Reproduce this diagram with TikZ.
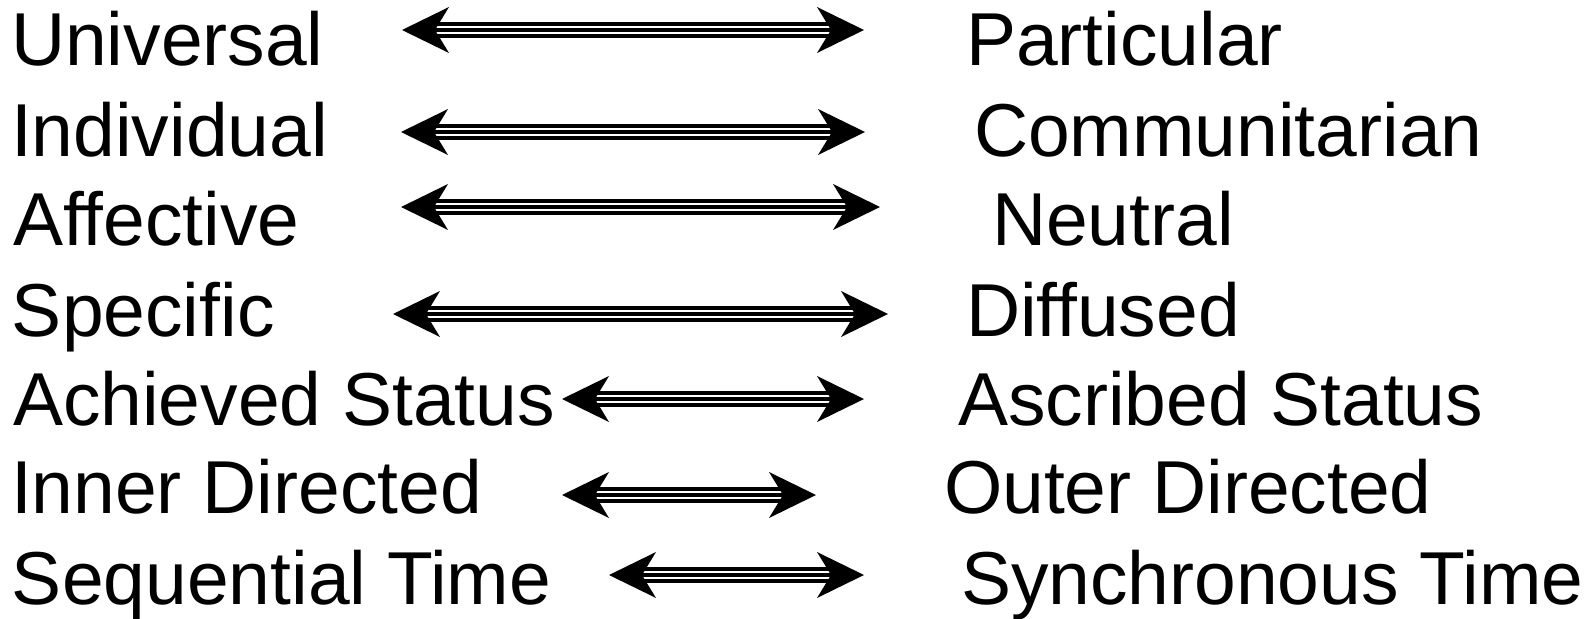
\documentclass[tikz,border=0pt]{standalone}
\usepackage{fontspec}
\setmainfont{Liberation Sans}
\usetikzlibrary{arrows.meta}
\tikzset{
  lbl/.style={anchor=base west, inner sep=0pt, outer sep=0pt, font=\fontsize{75}{80}\selectfont},
  bighead/.tip={Stealth[length=47pt, width=46pt, inset=14pt, line width=0pt]},
  tri/.style={line width=3.8pt, {bighead}-{bighead},
    preaction={draw, -, black, line width=15.5pt, shorten <=34pt, shorten >=34pt},
    preaction={draw, -, white, line width=8pt, shorten <=34pt, shorten >=34pt}}
}
\begin{document}
\begin{tikzpicture}[x=1pt, y=-1pt]
\useasboundingbox (0,0) rectangle (1594,618);
% left labels
\node[lbl] (l1) at (11,66) {Universal};
\node[lbl] (l2) at (11,156) {Individual};
\node[lbl] (l3) at (13,245) {Affective};
\node[lbl] (l4) at (12,336) {Specific};
\node[lbl] (l5) at (13,425) {Achieved Status};
\node[lbl] (l6) at (11,513) {Inner Directed};
\node[lbl] (l7) at (12,604) {Sequential Time};
% right labels
\node[lbl] (r1) at (966,66) {Particular};
\node[lbl] (r2) at (974,156) {Communitarian};
\node[lbl] (r3) at (992,245) {Neutral};
\node[lbl] (r4) at (966,336) {Diffused};
\node[lbl] (r5) at (958,425) {Ascribed Status};
\node[lbl] (r6) at (944,513) {Outer Directed};
\node[lbl] (r7) at (961,604) {Synchronous Time};
% arrow ends
\coordinate (a1) at (402,30);  \coordinate (b1) at (864,30);
\coordinate (a2) at (401,132); \coordinate (b2) at (865,132);
\coordinate (a3) at (401,207); \coordinate (b3) at (880,207);
\coordinate (a4) at (393,314); \coordinate (b4) at (888,314);
\coordinate (a5) at (562,399); \coordinate (b5) at (864,399);
\coordinate (a6) at (562,495); \coordinate (b6) at (816,495);
\coordinate (a7) at (609,575); \coordinate (b7) at (864,575);
\foreach \i in {1,...,7} { \draw[tri] (a\i) -- (b\i); }
\end{tikzpicture}
\end{document}
